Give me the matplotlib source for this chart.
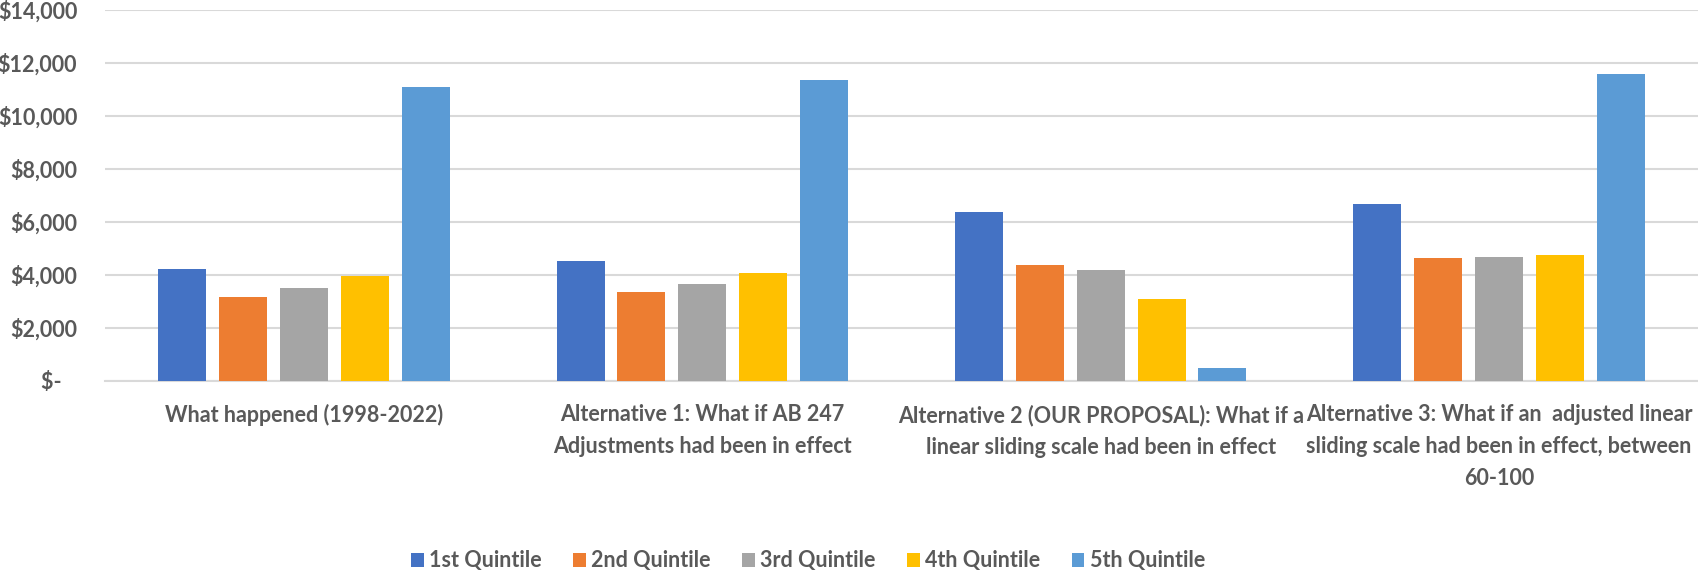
import matplotlib
matplotlib.use("Agg")
import matplotlib.pyplot as plt
import numpy as np
from matplotlib.ticker import FuncFormatter, MultipleLocator

plt.rcParams['font.family'] = ['Liberation Sans Narrow', 'Lato', 'DejaVu Sans']

categories = [
    "What happened (1998-2022)",
    "Alternative 1: What if AB 247\nAdjustments had been in effect",
    "Alternative 2 (OUR PROPOSAL): What if a\nlinear sliding scale had been in effect",
    "Alternative 3: What if an  adjusted linear\nsliding scale had been in effect, between\n60-100",
]
series_names = ["1st Quintile", "2nd Quintile", "3rd Quintile", "4th Quintile", "5th Quintile"]
q1 = [4200, 4520, 6370, 6680]
q2 = [3170, 3340, 4370, 4640]
q3 = [3510, 3650, 4170, 4680]
q4 = [3960, 4060, 3070, 4760]
q5 = [11100, 11340, 470, 11580]
colors = ["#4472C4", "#ED7D31", "#A5A5A5", "#FFC000", "#5B9BD5"]

text_color = "#595959"
grid_color = "#D9D9D9"

fig = plt.figure(figsize=(16.98, 5.70), dpi=100)
ax = fig.add_axes([105 / 1698, 1 - 380.7 / 570, 1 - 105 / 1698, (380.7 - 10) / 570])

x = np.arange(len(categories))
width = 0.1205
step = 0.153
for i, (vals, name, c) in enumerate(zip([q1, q2, q3, q4, q5], series_names, colors)):
    ax.bar(x + (i - 2) * step, vals, width=width, color=c, label=name, zorder=3)

ax.set_xlim(-0.5, len(categories) - 0.5)
ax.set_ylim(0, 14000)
ax.yaxis.set_major_locator(MultipleLocator(2000))
ax.yaxis.set_major_formatter(FuncFormatter(lambda v, p: "$-   " if v == 0 else f"${v:,.0f}"))
ax.grid(axis="y", color=grid_color, linewidth=1.5, zorder=0)
ax.set_axisbelow(True)
for side in ["top", "right", "left"]:
    ax.spines[side].set_visible(False)
ax.spines["bottom"].set_color(grid_color)
ax.spines["bottom"].set_linewidth(1.5)

ax.set_xticks(x)
ax.set_xticklabels(categories, fontsize=15.5, fontweight="bold", color=text_color, linespacing=1.65)
ax.tick_params(axis="x", length=0, pad=17)
ax.tick_params(axis="y", length=0, pad=20, labelsize=15.5, labelcolor=text_color)
for t in ax.get_yticklabels():
    t.set_fontweight("bold")

leg = fig.legend(
    loc="center", bbox_to_anchor=(808 / 1698, 1 - 561 / 570), ncol=5, frameon=False,
    prop={"size": 15.5, "weight": "bold"}, handlelength=0.6, handleheight=0.6,
    handletextpad=0.25, columnspacing=1.45,
)
for t in leg.get_texts():
    t.set_color(text_color)

fig.savefig("out.png", dpi=100)
